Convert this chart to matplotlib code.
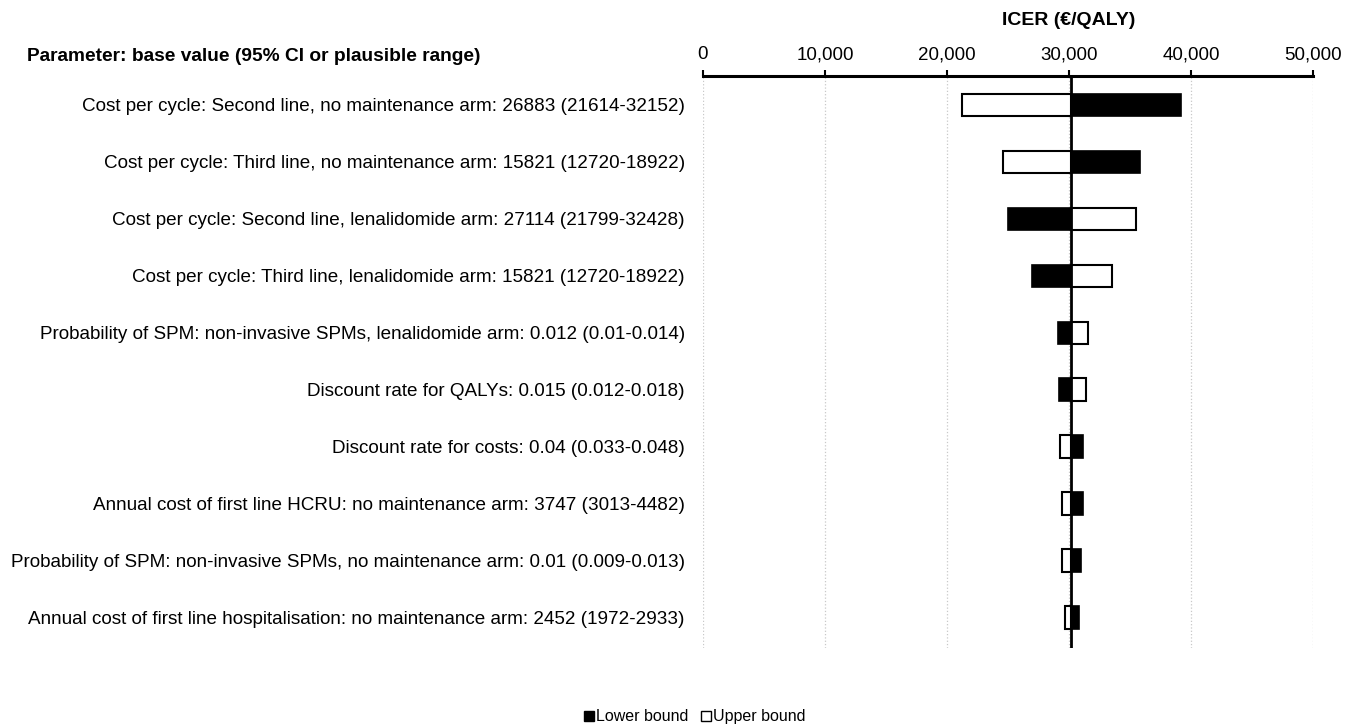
import matplotlib.pyplot as plt
from matplotlib.patches import Patch
from matplotlib.transforms import blended_transform_factory

plt.rcParams['font.family'] = ['Liberation Sans', 'DejaVu Sans']

# parameters (top to bottom) and ICER at lower / upper bound of each
params = [
    "Cost per cycle: Second line, no maintenance arm: 26883 (21614-32152)",
    "Cost per cycle: Third line, no maintenance arm: 15821 (12720-18922)",
    "Cost per cycle: Second line, lenalidomide arm: 27114 (21799-32428)",
    "Cost per cycle: Third line, lenalidomide arm: 15821 (12720-18922)",
    "Probability of SPM: non-invasive SPMs, lenalidomide arm: 0.012 (0.01-0.014)",
    "Discount rate for QALYs: 0.015 (0.012-0.018)",
    "Discount rate for costs: 0.04 (0.033-0.048)",
    "Annual cost of first line HCRU: no maintenance arm: 3747 (3013-4482)",
    "Probability of SPM: non-invasive SPMs, no maintenance arm: 0.01 (0.009-0.013)",
    "Annual cost of first line hospitalisation: no maintenance arm: 2452 (1972-2933)",
]
lower_icer = [39190, 35830, 25030, 26950, 29080, 29160, 31130, 31130, 30990, 30800]
upper_icer = [21210, 24570, 35500, 33510, 31540, 31400, 29270, 29380, 29380, 29680]
base_icer = 30150
xticks = [0, 10000, 20000, 30000, 40000, 50000]

fig = plt.figure(figsize=(13.57, 7.27), dpi=100)
ax = fig.add_axes([0.518, 0.109, 0.4497, 0.787])

ypos = list(range(len(params)))
h = 0.39
ax.barh(ypos, [v - base_icer for v in lower_icer], left=base_icer, height=h,
        color='black', edgecolor='black', linewidth=1.2, zorder=3)
ax.barh(ypos, [v - base_icer for v in upper_icer], left=base_icer, height=h,
        color='white', edgecolor='black', linewidth=1.5, zorder=3)
ax.axvline(base_icer, color='black', linewidth=2, zorder=4)

ax.set_xlim(0, 50000)
ax.set_ylim(9.53, -0.51)
ax.set_xticks(xticks)
ax.set_xticklabels([f"{t:,}" for t in xticks], fontsize=13.5)
ax.xaxis.tick_top()
ax.tick_params(axis='x', direction='out', length=4, width=1.5, pad=5)

ax.set_yticks(ypos)
ax.set_yticklabels(params, fontsize=13.6)
ax.tick_params(axis='y', length=0, pad=13)

ax.grid(axis='x', color='#c8c8c8', linewidth=0.9, linestyle=':')
ax.set_axisbelow(True)
for s in ['left', 'right', 'bottom']:
    ax.spines[s].set_visible(False)
ax.spines['top'].set_linewidth(2.2)

tr = blended_transform_factory(ax.transData, fig.transFigure)
ax.text(30000, 0.972, "ICER (€/QALY)", transform=tr, ha='center', va='center',
        fontsize=14, fontweight='bold')
fig.text(0.02, 0.922, "Parameter: base value (95% CI or plausible range)",
         ha='left', va='center', fontsize=13.8, fontweight='bold')

handles = [Patch(facecolor='black', edgecolor='black', label='Lower bound'),
           Patch(facecolor='white', edgecolor='black', label='Upper bound')]
fig.legend(handles=handles, loc='center', bbox_to_anchor=(0.512, 0.014), ncol=2,
           frameon=False, fontsize=11.5, handlelength=0.6, handleheight=0.6,
           handletextpad=0.15, columnspacing=0.8)

fig.savefig("out.png", dpi=100)
